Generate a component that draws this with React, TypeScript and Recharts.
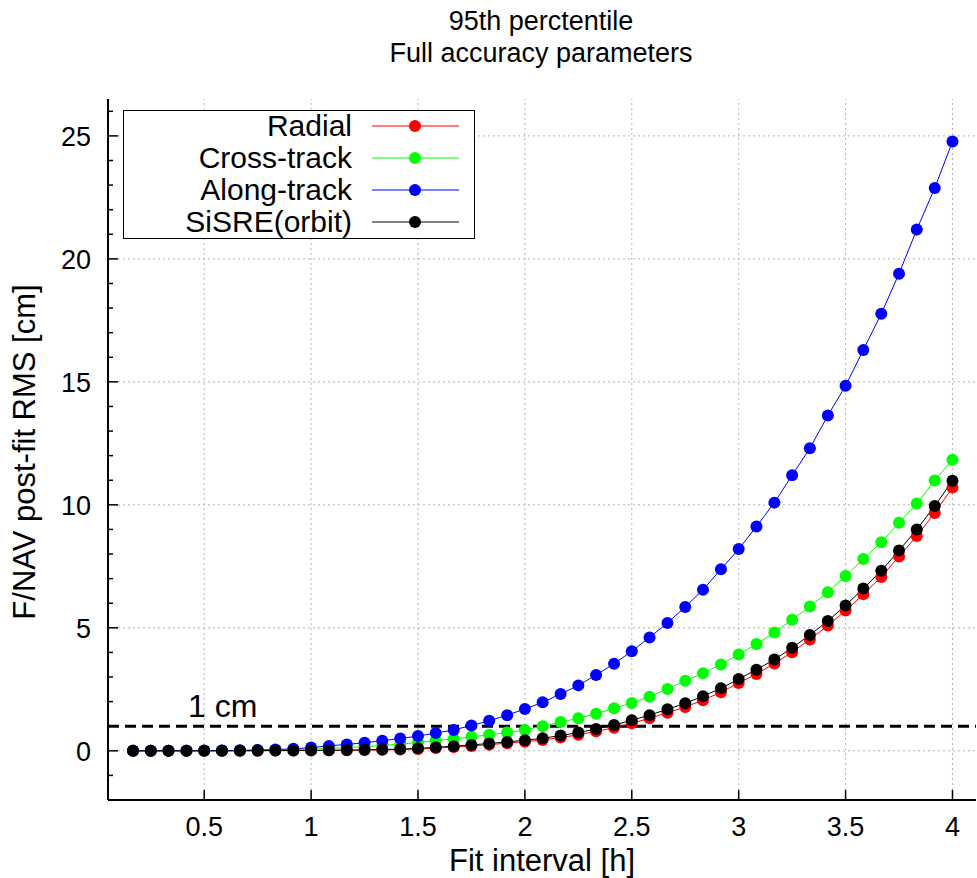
import { LineChart, Line, XAxis, YAxis, ReferenceLine } from 'recharts'

const fitHours = [
  0.167, 0.25, 0.333, 0.417, 0.5, 0.583, 0.667, 0.75, 0.833, 0.917, 1, 1.083, 1.167, 1.25, 1.333, 1.417,
  1.5, 1.583, 1.667, 1.75, 1.833, 1.917, 2, 2.083, 2.167, 2.25, 2.333, 2.417, 2.5, 2.583, 2.667, 2.75,
  2.833, 2.917, 3, 3.083, 3.167, 3.25, 3.333, 3.417, 3.5, 3.583, 3.667, 3.75, 3.833, 3.917, 4,
]

const radial = [
  0, 0, 0, 0, 0, 0, 0, 0, 0.01, 0.01, 0.01, 0.02, 0.02, 0.03, 0.04, 0.05, 0.07, 0.11, 0.15, 0.2, 0.25,
  0.31, 0.37, 0.44, 0.54, 0.65, 0.79, 0.94, 1.12, 1.32, 1.55, 1.78, 2.06, 2.38, 2.76, 3.12, 3.55, 4.01,
  4.53, 5.09, 5.7, 6.37, 7.07, 7.9, 8.73, 9.67, 10.7,
]

const crossTrack = [
  0, 0, 0, 0, 0, 0.01, 0.01, 0.02, 0.03, 0.05, 0.07, 0.1, 0.13, 0.17, 0.22, 0.27, 0.34, 0.42, 0.48, 0.57,
  0.65, 0.74, 0.85, 1.0, 1.17, 1.32, 1.51, 1.73, 1.94, 2.2, 2.51, 2.85, 3.15, 3.51, 3.92, 4.34, 4.81, 5.33,
  5.87, 6.45, 7.11, 7.8, 8.48, 9.27, 10.05, 10.99, 11.83,
]

const alongTrack = [
  0, 0, 0, 0, 0.01, 0.01, 0.02, 0.03, 0.05, 0.08, 0.13, 0.2, 0.26, 0.33, 0.41, 0.5, 0.6, 0.72, 0.85, 1.03,
  1.22, 1.45, 1.7, 1.97, 2.31, 2.66, 3.08, 3.54, 4.05, 4.61, 5.2, 5.85, 6.55, 7.38, 8.2, 9.12, 10.09, 11.2,
  12.3, 13.63, 14.84, 16.3, 17.77, 19.4, 21.19, 22.88, 24.77,
]

const sisre = [
  0, 0, 0, 0, 0, 0, 0, 0.01, 0.01, 0.01, 0.02, 0.02, 0.03, 0.04, 0.05, 0.07, 0.1, 0.14, 0.19, 0.24, 0.3,
  0.36, 0.43, 0.51, 0.62, 0.74, 0.89, 1.05, 1.24, 1.45, 1.69, 1.93, 2.22, 2.54, 2.92, 3.3, 3.71, 4.19,
  4.71, 5.28, 5.91, 6.6, 7.32, 8.14, 9.0, 9.95, 10.98,
]

const xTicks = [0.5, 1, 1.5, 2, 2.5, 3, 3.5, 4]
const yMajor = [0, 5, 10, 15, 20, 25]
const yTicks = [-2, -1, 0, 1, 2, 3, 4, 5, 6, 7, 8, 9, 10, 11, 12, 13, 14, 15, 16, 17, 18, 19, 20, 21, 22, 23, 24, 25, 26]

const series = [
  { key: 'radial', name: 'Radial', color: '#ff0000' },
  { key: 'cross', name: 'Cross-track', color: '#00ff00' },
  { key: 'along', name: 'Along-track', color: '#0000ff' },
  { key: 'sisre', name: 'SiSRE(orbit)', color: '#000000' },
]

const data = fitHours.map((h, i) => ({
  h,
  radial: radial[i],
  cross: crossTrack[i],
  along: alongTrack[i],
  sisre: sisre[i],
}))

const FONT = '"Liberation Sans", Arial, sans-serif'

// gnuplot style: ticks point into the plot, labels only on left / bottom
const LeftTick = (props: any) => {
  const { x, y, payload } = props
  const major = yMajor.includes(payload.value)
  return (
    <g>
      <line x1={x} y1={y} x2={x + (major ? 10 : 5)} y2={y} stroke="#000" strokeWidth={1.5} />
      {major && (
        <text x={x - 17} y={y + 10} textAnchor="end" fontSize={27} fontFamily={FONT} fill="#000">
          {payload.value}
        </text>
      )}
    </g>
  )
}

const RightTick = (props: any) => {
  const { x, y, payload } = props
  const major = yMajor.includes(payload.value)
  return <line x1={x} y1={y} x2={x - (major ? 10 : 5)} y2={y} stroke="#000" strokeWidth={1.5} />
}

const BottomTick = (props: any) => {
  const { x, y, payload } = props
  return (
    <g>
      <line x1={x} y1={y} x2={x} y2={y - 10} stroke="#000" strokeWidth={1.5} />
      <text x={x} y={y + 36} textAnchor="middle" fontSize={27} fontFamily={FONT} fill="#000">
        {payload.value}
      </text>
    </g>
  )
}

const TopTick = (props: any) => {
  const { x, y } = props
  return <line x1={x} y1={y} x2={x} y2={y + 10} stroke="#000" strokeWidth={1.5} />
}

const OneCmLabel = (props: any) => {
  const { viewBox } = props
  return (
    <text x={viewBox.x + 80} y={viewBox.y - 9} fontSize={32} fontFamily={FONT} fill="#000">
      1 cm
    </text>
  )
}

export default function App() {
  return (
    <div style={{ position: 'relative', width: 977, height: 878, background: '#fff' }}>
      <style>{'body{margin:0}'}</style>
      <LineChart width={977} height={878} data={data} margin={{ top: 99, right: 1, bottom: 0, left: 0 }}>
        <XAxis
          xAxisId="b"
          dataKey="h"
          type="number"
          domain={[0.05, 4.11]}
          ticks={xTicks}
          interval={0}
          height={78}
          tickSize={0}
          tickMargin={0}
          tickLine={false}
          tick={<BottomTick />}
          axisLine={{ stroke: '#000', strokeWidth: 2 }}
          allowDataOverflow
        />
        <XAxis
          xAxisId="t"
          orientation="top"
          dataKey="h"
          type="number"
          domain={[0.05, 4.11]}
          ticks={xTicks}
          interval={0}
          height={0}
          tickSize={0}
          tickMargin={0}
          tickLine={false}
          tick={<TopTick />}
          axisLine={{ stroke: '#000', strokeWidth: 2 }}
          allowDataOverflow
        />
        <YAxis
          yAxisId="l"
          type="number"
          domain={[-2, 26.5]}
          ticks={yTicks}
          interval={0}
          width={108}
          tickSize={0}
          tickMargin={0}
          tickLine={false}
          tick={<LeftTick />}
          axisLine={{ stroke: '#000', strokeWidth: 2 }}
          allowDataOverflow
        />
        <YAxis
          yAxisId="r"
          orientation="right"
          type="number"
          domain={[-2, 26.5]}
          ticks={yTicks}
          interval={0}
          width={0}
          tickSize={0}
          tickMargin={0}
          tickLine={false}
          tick={<RightTick />}
          axisLine={{ stroke: '#000', strokeWidth: 2 }}
          allowDataOverflow
        />
        {xTicks.map((t) => (
          <ReferenceLine key={'gx' + t} x={t} xAxisId="b" yAxisId="l" stroke="#b4b4b4" strokeDasharray="2 3" />
        ))}
        {yMajor.map((t) => (
          <ReferenceLine key={'gy' + t} y={t} xAxisId="b" yAxisId="l" stroke="#b4b4b4" strokeDasharray="2 3" />
        ))}
        <ReferenceLine
          y={1}
          xAxisId="b"
          yAxisId="l"
          stroke="#000"
          strokeWidth={3}
          strokeDasharray="11 6"
          label={<OneCmLabel />}
        />
        {series.map((s) => (
          <Line
            key={s.key}
            xAxisId="b"
            yAxisId="l"
            dataKey={s.key}
            name={s.name}
            stroke={s.color}
            strokeWidth={1}
            dot={{ r: 6, fill: s.color, stroke: s.color, strokeWidth: 0 }}
            activeDot={false}
            isAnimationActive={false}
          />
        ))}
      </LineChart>

      <svg width={977} height={878} style={{ position: 'absolute', left: 0, top: 0, pointerEvents: 'none' }}>
        <text x={541} y={30} textAnchor="middle" fontSize={27} fontFamily={FONT}>
          95th perctentile
        </text>
        <text x={541} y={62} textAnchor="middle" fontSize={27} fontFamily={FONT}>
          Full accuracy parameters
        </text>
        <text x={542} y={871} textAnchor="middle" fontSize={31} fontFamily={FONT}>
          Fit interval [h]
        </text>
        <text x={35} y={452} textAnchor="middle" fontSize={31} fontFamily={FONT} transform="rotate(-90 35 452)">
          F/NAV post-fit RMS [cm]
        </text>
        <rect x={123.5} y={110.5} width={351} height={128} fill="#fff" stroke="#000" strokeWidth={1} />
        {series.map((s, i) => (
          <g key={s.key}>
            <text x={352} y={136 + i * 32} textAnchor="end" fontSize={30} fontFamily={FONT}>
              {s.name}
            </text>
            <line x1={372} y1={126 + i * 32} x2={459} y2={126 + i * 32} stroke={s.color} strokeWidth={1} />
            <circle cx={415} cy={126 + i * 32} r={6} fill={s.color} />
          </g>
        ))}
      </svg>
    </div>
  )
}
